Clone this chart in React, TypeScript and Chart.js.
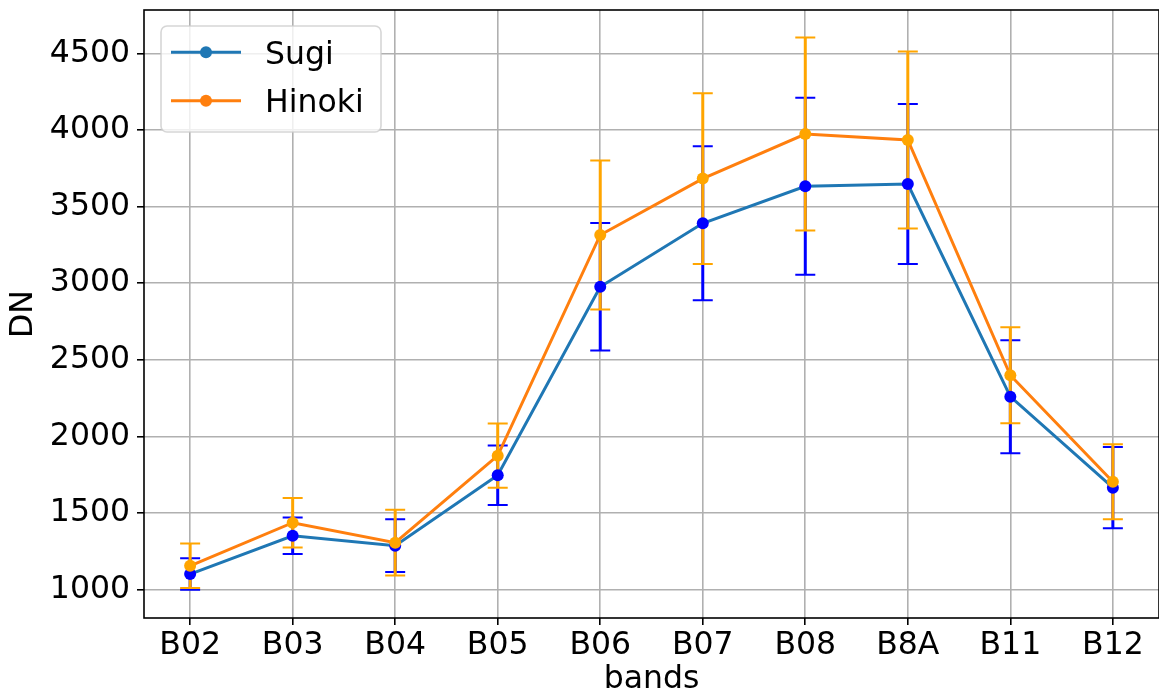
import React, { useEffect, useRef } from 'react';
import { Chart, registerables } from 'chart.js';

Chart.register(...registerables);

const categories = ['B02', 'B03', 'B04', 'B05', 'B06', 'B07', 'B08', 'B8A', 'B11', 'B12'];
const sugiMean = [1101, 1351, 1286, 1746, 2977, 3391, 3633, 3648, 2259, 1665];
const sugiStd = [103, 119, 172, 194, 416, 503, 578, 522, 369, 265];
const hinokiMean = [1155, 1436, 1306, 1874, 3315, 3683, 3974, 3935, 2399, 1704];
const hinokiStd = [145, 162, 215, 210, 486, 558, 630, 578, 314, 245];
const yTicks = [1000, 1500, 2000, 2500, 3000, 3500, 4000, 4500];

const seriesNames = ['Sugi', 'Hinoki'];
const lineColors = ['#1f77b4', '#ff7f0e'];
const markerColors = ['#0000ff', '#ffa500'];

const Y_MIN = 814;
const Y_MAX = 4784;
const X_MIN = -0.45;
const X_MAX = categories.length - 1 + 0.45;

const FONT = "'DejaVu Sans', sans-serif";
const FS = 31.5;
const W = 1159;
const H = 696;
const CANVAS_W = 1165;

const toPoints = (vals: number[]) => vals.map((v, i) => ({ x: i, y: v }));

const errorBarPlugin = {
  id: 'errorBars',
  afterDatasetDraw(chart: any, args: any) {
    const ds = chart.data.datasets[args.index];
    if (!ds.errors) return;
    const { ctx, scales } = chart;
    const xs = scales.x;
    const ys = scales.y;
    ctx.save();
    ctx.strokeStyle = ds.errorColor;
    ctx.lineCap = 'butt';
    ds.data.forEach((p: any, i: number) => {
      const px = xs.getPixelForValue(p.x);
      const top = ys.getPixelForValue(p.y + ds.errors[i]);
      const bot = ys.getPixelForValue(p.y - ds.errors[i]);
      ctx.lineWidth = 3;
      ctx.beginPath();
      ctx.moveTo(px, top);
      ctx.lineTo(px, bot);
      ctx.stroke();
      ctx.lineWidth = 2;
      ctx.beginPath();
      ctx.moveTo(px - 10, top);
      ctx.lineTo(px + 10, top);
      ctx.moveTo(px - 10, bot);
      ctx.lineTo(px + 10, bot);
      ctx.stroke();
    });
    ctx.restore();
  },
};

const framePlugin = {
  id: 'frame',
  afterDatasetsDraw(chart: any) {
    const { ctx, chartArea: a } = chart;
    ctx.save();
    ctx.strokeStyle = '#000';
    ctx.lineWidth = 1.6;
    ctx.strokeRect(a.left, a.top, a.right - a.left, a.bottom - a.top);
    ctx.restore();
  },
};

const legendPlugin = {
  id: 'boxLegend',
  afterDraw(chart: any) {
    const { ctx, chartArea: a } = chart;
    const items = chart.data.datasets.filter((d: any) => d.legendLabel);
    const bx = a.left + 17;
    const by = a.top + 16;
    const bw = 220;
    const bh = 106;
    const r = 6;
    ctx.save();
    ctx.beginPath();
    ctx.moveTo(bx + r, by);
    ctx.lineTo(bx + bw - r, by);
    ctx.arcTo(bx + bw, by, bx + bw, by + r, r);
    ctx.lineTo(bx + bw, by + bh - r);
    ctx.arcTo(bx + bw, by + bh, bx + bw - r, by + bh, r);
    ctx.lineTo(bx + r, by + bh);
    ctx.arcTo(bx, by + bh, bx, by + bh - r, r);
    ctx.lineTo(bx, by + r);
    ctx.arcTo(bx, by, bx + r, by, r);
    ctx.closePath();
    ctx.fillStyle = 'rgba(255,255,255,0.8)';
    ctx.fill();
    ctx.strokeStyle = 'rgba(204,204,204,0.8)';
    ctx.lineWidth = 1.6;
    ctx.stroke();
    items.forEach((d: any, i: number) => {
      const cy = by + 26.3 + i * 48.4;
      ctx.strokeStyle = d.borderColor;
      ctx.lineWidth = 3;
      ctx.beginPath();
      ctx.moveTo(bx + 10, cy);
      ctx.lineTo(bx + 80, cy);
      ctx.stroke();
      ctx.fillStyle = d.borderColor;
      ctx.beginPath();
      ctx.arc(bx + 45, cy, 6, 0, Math.PI * 2);
      ctx.fill();
      ctx.fillStyle = '#000';
      ctx.font = `${FS}px ${FONT}`;
      ctx.textAlign = 'left';
      ctx.textBaseline = 'alphabetic';
      ctx.fillText(d.legendLabel, bx + 104, cy + 11.5);
    });
    ctx.restore();
  },
};

const zeroPad = (s: any) => {
  s.paddingTop = 0;
  s.paddingBottom = 0;
  s.paddingLeft = 0;
  s.paddingRight = 0;
};

export default function App() {
  const ref = useRef<HTMLCanvasElement | null>(null);

  useEffect(() => {
    document.body.style.margin = '0';
    document.body.style.overflow = 'hidden';
    const canvas = ref.current;
    if (!canvas) return;
    const means = [sugiMean, hinokiMean];
    const stds = [sugiStd, hinokiStd];
    const lineSets = seriesNames.map((name, k) => ({
      type: 'line',
      label: name,
      legendLabel: name,
      data: toPoints(means[k]),
      errors: stds[k],
      errorColor: markerColors[k],
      borderColor: lineColors[k],
      backgroundColor: lineColors[k],
      borderWidth: 3,
      pointRadius: 0,
      tension: 0,
      fill: false,
      order: 10 - k,
    }));
    const markerSets = seriesNames.map((name, k) => ({
      type: 'line',
      label: name + ' markers',
      data: toPoints(means[k]),
      showLine: false,
      borderColor: markerColors[k],
      backgroundColor: markerColors[k],
      pointBackgroundColor: markerColors[k],
      pointBorderWidth: 0,
      pointRadius: 6,
      pointHoverRadius: 6,
      order: 5 - k,
    }));

    const chart = new Chart(canvas, {
      type: 'line',
      data: { datasets: [...lineSets, ...markerSets] as any },
      plugins: [errorBarPlugin, framePlugin, legendPlugin],
      options: {
        animation: false,
        responsive: false,
        devicePixelRatio: 1,
        events: [],
        layout: { padding: { top: 10, right: 2, left: 0, bottom: 0 } },
        plugins: { legend: { display: false }, tooltip: { enabled: false } },
        scales: {
          x: {
            type: 'linear',
            min: X_MIN,
            max: X_MAX,
            afterBuildTicks: (s: any) => {
              s.ticks = categories.map((_, i) => ({ value: i }));
            },
            afterFit: (s: any) => {
              s.height = 78;
              zeroPad(s);
            },
            ticks: {
              autoSkip: false,
              maxRotation: 0,
              padding: 2,
              color: '#000',
              font: { family: FONT, size: FS },
              callback: (_v: any, i: number) => categories[i],
            },
            grid: {
              color: '#b0b0b0',
              lineWidth: 1.6,
              tickColor: '#000',
              tickLength: 7,
              tickWidth: 1.6,
            },
            border: { display: false },
            title: {
              display: true,
              text: 'bands',
              color: '#000',
              font: { family: FONT, size: FS, lineHeight: 1 },
              padding: { top: 0, bottom: 0 },
            },
          },
          y: {
            type: 'linear',
            min: Y_MIN,
            max: Y_MAX,
            afterBuildTicks: (s: any) => {
              s.ticks = yTicks.map((v) => ({ value: v }));
            },
            afterFit: (s: any) => {
              s.width = 144;
              zeroPad(s);
            },
            ticks: {
              padding: 7,
              color: '#000',
              font: { family: FONT, size: FS },
              callback: (v: any) => String(v),
            },
            grid: {
              color: '#b0b0b0',
              lineWidth: 1.6,
              tickColor: '#000',
              tickLength: 7,
              tickWidth: 1.6,
            },
            border: { display: false },
            title: {
              display: true,
              text: 'DN',
              color: '#000',
              font: { family: FONT, size: FS, lineHeight: 1 },
              padding: { top: 8, bottom: 0 },
            },
          },
        },
      } as any,
    });
    return () => chart.destroy();
  }, []);

  return (
    <div style={{ position: 'absolute', left: 0, top: 0, width: W, height: H, overflow: 'hidden', background: '#fff' }}>
      <canvas ref={ref} width={CANVAS_W} height={H} style={{ display: 'block' }} />
    </div>
  );
}
